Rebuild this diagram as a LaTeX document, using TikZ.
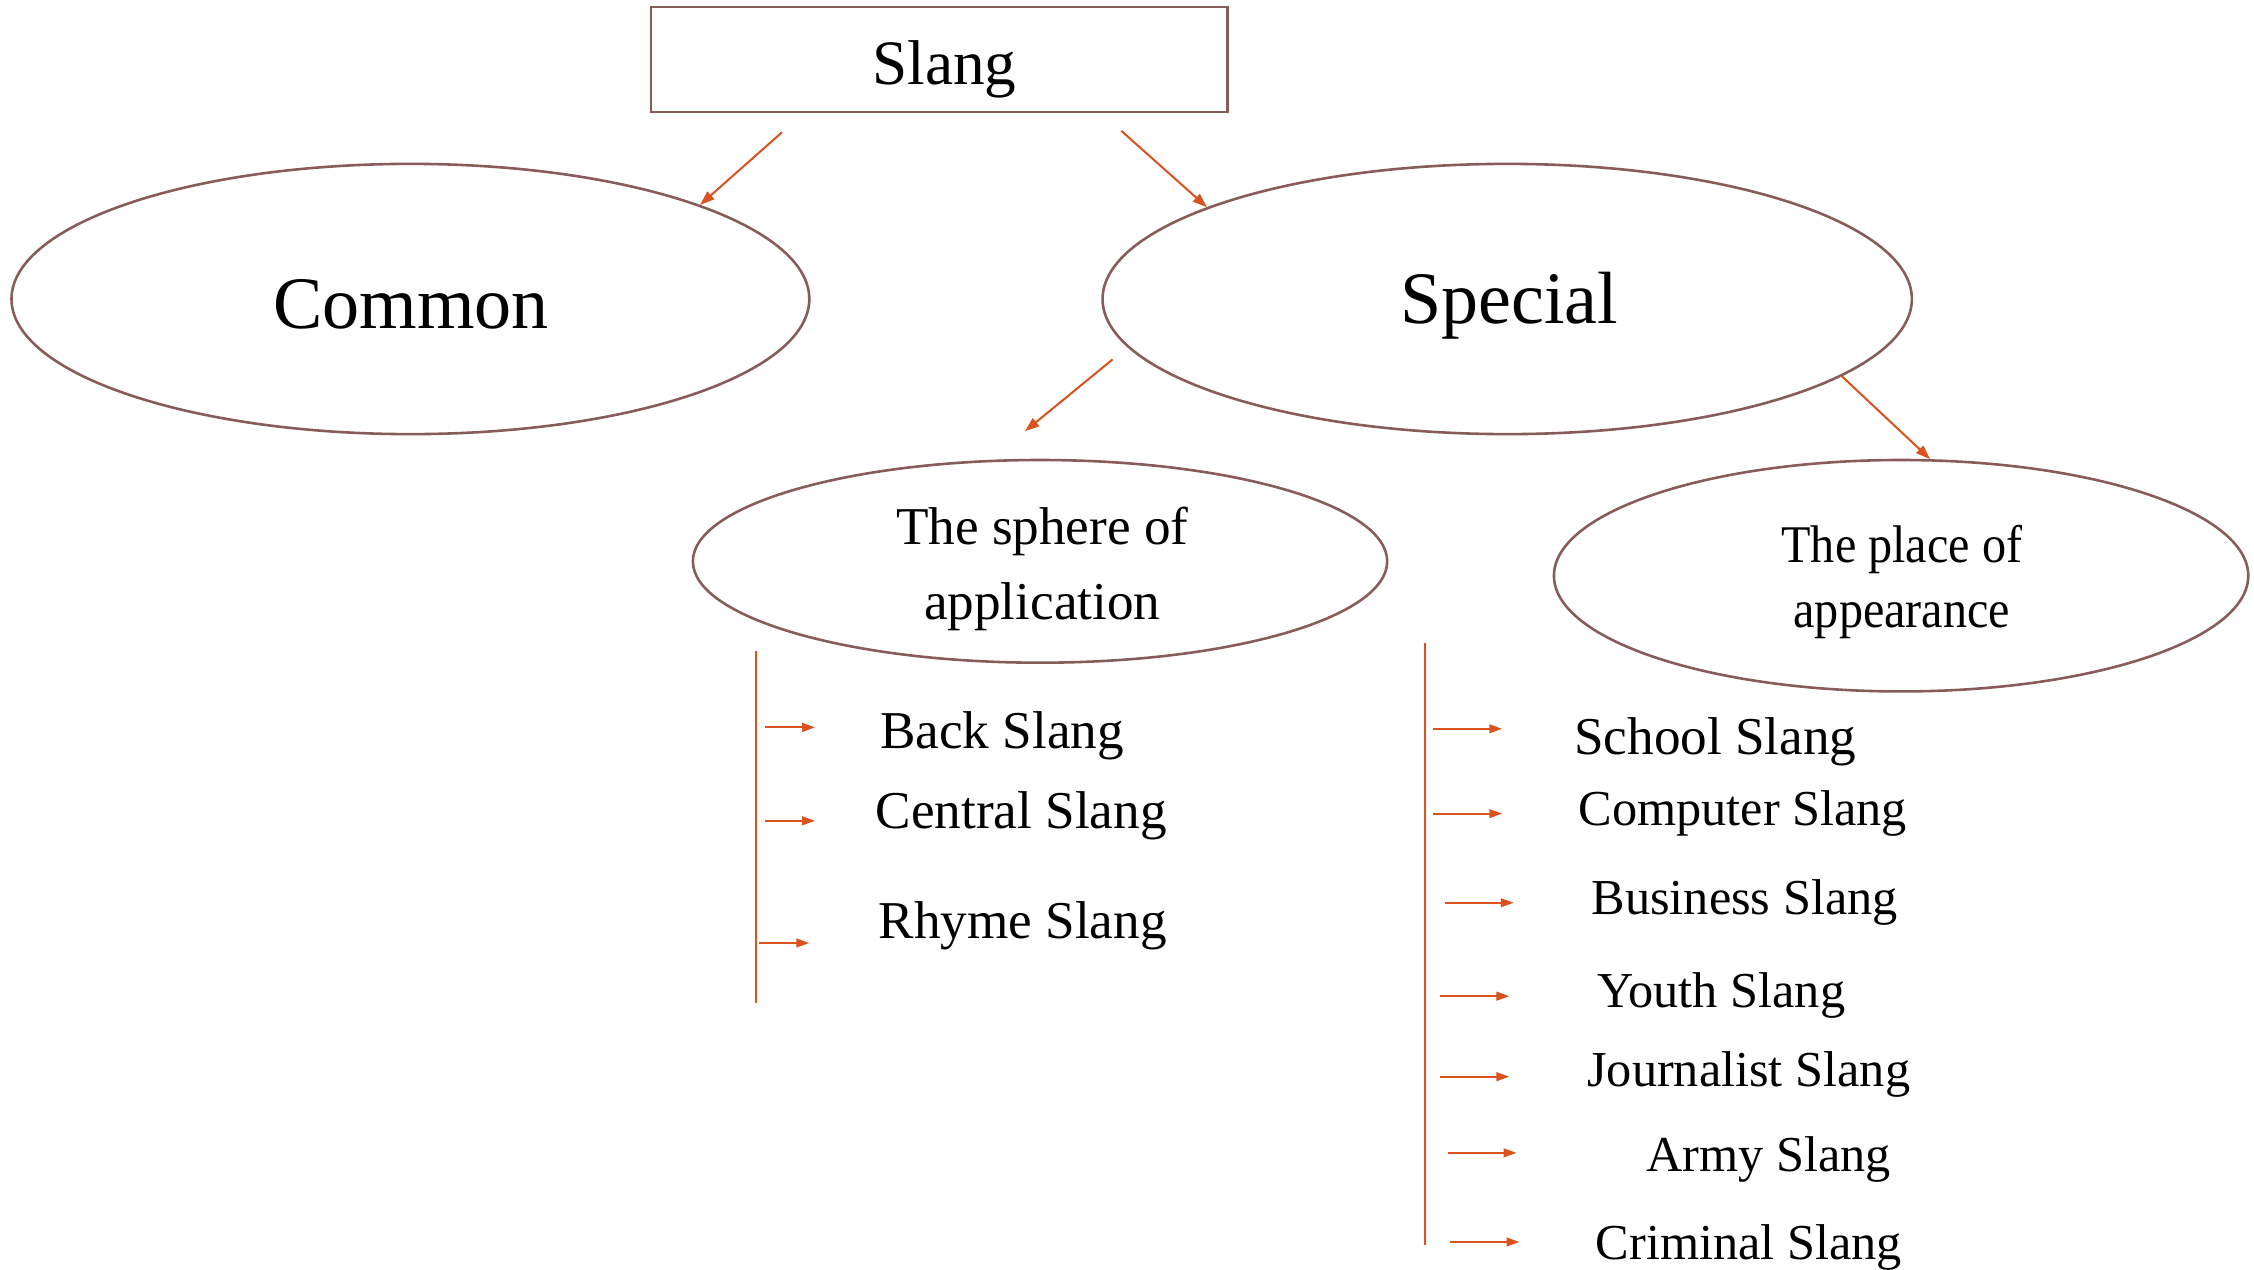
\documentclass[tikz,border=0pt]{standalone}
\usepackage{fontspec}
\setmainfont{Liberation Serif}
\usetikzlibrary{shapes.geometric,arrows.meta,calc}
\definecolor{edgebrown}{RGB}{135,92,90}
\definecolor{arrorange}{RGB}{218,82,30}
\begin{document}
\begin{tikzpicture}[x=1pt,y=-1pt,
  oval/.style={draw=edgebrown, line width=1.8pt, ellipse, inner sep=0pt},
  boxstyle/.style={draw=edgebrown, line width=1.8pt, rectangle, inner sep=0pt},
  arr/.style={draw=arrorange, line width=1.4pt, -{Triangle[length=9pt,width=6pt]}},
  toparr/.style={draw=arrorange, line width=1.4pt, -{Triangle[length=10pt,width=7pt]}},
  stemline/.style={draw=arrorange, line width=1.4pt},
  itemtext/.style={anchor=base west, inner sep=0pt},
  bigtext/.style={inner sep=0pt, font=\fontsize{51.5}{60}\selectfont},
]
\fill[white] (0,0) rectangle (1568,883);
\useasboundingbox (0,0) rectangle (1568,883);

% main nodes
\node[boxstyle, minimum width=401pt, minimum height=73pt] (slang) at (653.5,41.5) {};
\node[inner sep=0pt, font=\fontsize{44}{50}\selectfont] (slangtext) at (657,48) {Slang};

\node[oval, minimum width=555pt, minimum height=188pt] (common) at (285.5,208) {};
\node[bigtext] (commontext) at (286,212) {Common};

\node[oval, minimum width=563pt, minimum height=188pt] (special) at (1048.5,208) {};
\node[bigtext] (specialtext) at (1050,213) {Special};

\node[oval, minimum width=483pt, minimum height=141pt] (sphere) at (723.5,390.5) {};
\node[inner sep=0pt, align=center, font=\fontsize{37}{52}\selectfont] (spheretext) at (725,396) {The sphere of\\application};

\node[oval, minimum width=483pt, minimum height=161pt] (place) at (1322.5,400.5) {};
\node[inner sep=0pt, align=center, yscale=1.1, font=\fontsize{33.5}{41}\selectfont] (placetext) at (1323,405) {The place of\\appearance};

% top connectors
\coordinate (s1) at (544,92);
\coordinate (s2) at (780,91);
\coordinate (p1) at (774,250);
\coordinate (p1e) at (713,300);
\draw[toparr] (s1) -- (common.18);
\draw[toparr] (s2) -- (special.163);
\draw[toparr] (p1) -- (p1e);
\draw[toparr] (special.-13) -- (place.76);

% left list
\coordinate (lbtop) at (526,453);
\coordinate (lbbot) at (526,698);
\draw[stemline] (lbtop) -- (lbbot);
\foreach \n/\xa/\xb/\y in {1/532/567/506, 2/532/567/571, 3/528/563/656}{
  \coordinate (la\n s) at (\xa,\y);
  \coordinate (la\n e) at (\xb,\y);
  \draw[arr] (la\n s) -- (la\n e);
}
\node[itemtext, font=\fontsize{37}{42}\selectfont] (back) at (612,521) {Back Slang};
\node[itemtext, font=\fontsize{37}{42}\selectfont] (central) at (609,576) {Central Slang};
\node[itemtext, font=\fontsize{37}{42}\selectfont] (rhyme) at (611,653) {Rhyme Slang};

% right list
\coordinate (rbtop) at (991,447);
\coordinate (rbbot) at (991,866);
\draw[stemline] (rbtop) -- (rbbot);
\foreach \n/\xa/\xb/\y in {1/997/1045/507, 2/997/1045/566, 3/1005/1053/628, 4/1002/1050/693, 5/1002/1050/749, 6/1007/1055/802, 7/1009/1057/864}{
  \coordinate (ra\n s) at (\xa,\y);
  \coordinate (ra\n e) at (\xb,\y);
  \draw[arr] (ra\n s) -- (ra\n e);
}
\node[itemtext, font=\fontsize{37}{42}\selectfont] (school) at (1095,525) {School Slang};
\node[itemtext, font=\fontsize{35}{40}\selectfont] (computer) at (1098,574) {Computer Slang};
\node[itemtext, font=\fontsize{35}{40}\selectfont] (business) at (1107,636) {Business Slang};
\node[itemtext, font=\fontsize{35}{40}\selectfont] (youth) at (1111,701) {Youth Slang};
\node[itemtext, font=\fontsize{35}{40}\selectfont] (journalist) at (1104,756) {Journalist Slang};
\node[itemtext, font=\fontsize{35}{40}\selectfont] (army) at (1145,815) {Army Slang};
\node[itemtext, font=\fontsize{35}{40}\selectfont] (criminal) at (1110,876) {Criminal Slang};
\end{tikzpicture}
\end{document}
